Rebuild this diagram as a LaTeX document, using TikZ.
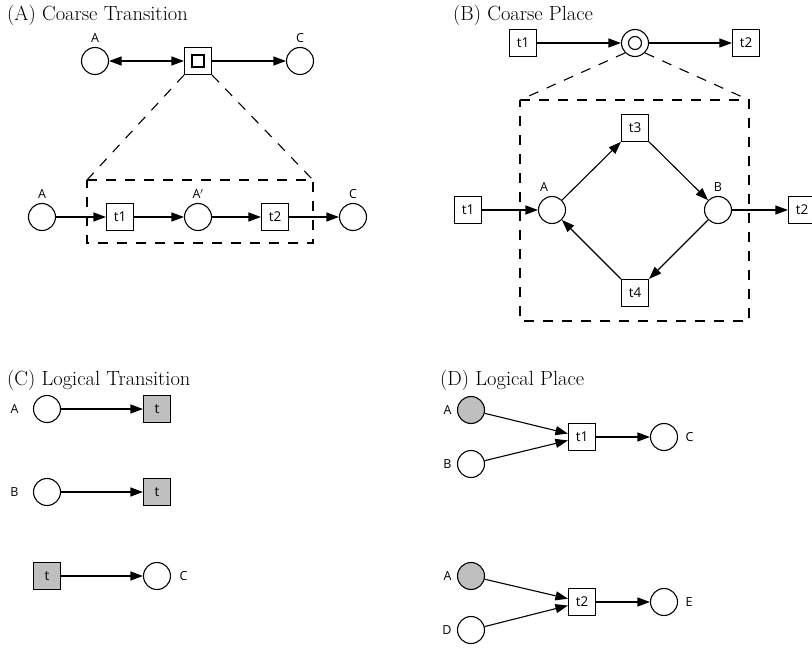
\documentclass[tikz,border=0pt]{standalone}
\usepackage{fontspec}
\newfontfamily\labfont{Open Sans}
\usetikzlibrary{arrows.meta}
\begin{document}
\begin{tikzpicture}[x=1pt,y=-1pt,
  place/.style={circle,draw,line width=1.1pt,minimum size=27pt,inner sep=0pt,fill=white},
  trans/.style={rectangle,draw,line width=1.1pt,minimum size=27pt,inner sep=0pt,fill=white,font=\labfont\fontsize{13.5}{15}\selectfont},
  gtrans/.style={trans,fill=black!25},
  gplace/.style={place,fill=black!25},
  arc/.style={-{Triangle[length=12.5pt,width=9pt]},line width=1.1pt},
  dblarc/.style={{Triangle[length=12.5pt,width=9pt]}-{Triangle[length=12.5pt,width=9pt]},line width=1.1pt},
  dashbox/.style={line width=1.1pt,dash pattern=on 10pt off 9pt},
  ttl/.style={anchor=base west,inner sep=0pt,font=\fontsize{20.5}{24}\selectfont},
  every label/.style={font=\labfont\fontsize{12.5}{14}\selectfont}]
\useasboundingbox (0,0) rectangle (812,650);

% ---------- (A) ----------
\node[ttl] (tA) at (7,21) {(A) Coarse Transition};
\node[place,label={[label distance=1pt]above:A}] (aA) at (95,61) {};
\node[trans] (aT) at (198,61) {};
\node[draw,line width=1.1pt,minimum size=12pt,inner sep=0pt] (aTi) at (198,61) {};
\node[place,label={[label distance=1pt]above:C}] (aC) at (300,61) {};
\draw[dblarc] (aA) -- (aT);
\draw[arc] (aT) -- (aC);
\coordinate (aNW) at (87,180);
\coordinate (aNE) at (313,180);
\coordinate (aSW) at (87,243);
\coordinate (aSE) at (313,243);
\draw[dashbox] (aT.south west) -- (aNW);
\draw[dashbox] (aT.south east) -- (aNE);
\draw[dashbox] (aNW) -- (aNE) -- (aSE) -- (aSW) -- cycle;
\node[place,label={[label distance=1pt]above:A}] (aA2) at (42,217) {};
\node[trans] (at1) at (120,217) {t1};
\node[place,label={[label distance=1pt]above:A$'$}] (aAp) at (198,217) {};
\node[trans] (at2) at (275,217) {t2};
\node[place,label={[label distance=1pt]above:C}] (aC2) at (353,217) {};
\draw[arc] (aA2) -- (at1);
\draw[arc] (at1) -- (aAp);
\draw[arc] (aAp) -- (at2);
\draw[arc] (at2) -- (aC2);

% ---------- (B) ----------
\node[ttl] (tB) at (453,21) {(B) Coarse Place};
\node[trans] (bt1) at (523,43) {t1};
\node[place] (bP) at (635,43) {};
\node[circle,draw,line width=1.1pt,minimum size=13pt,inner sep=0pt] (bPi) at (635,43) {};
\node[trans] (bt2) at (746,43) {t2};
\draw[arc] (bt1) -- (bP);
\draw[arc] (bP) -- (bt2);
\coordinate (bNW) at (520,100);
\coordinate (bNE) at (749,100);
\coordinate (bSW) at (520,321);
\coordinate (bSE) at (749,321);
\draw[dashbox] (bP.south west) -- (bNW);
\draw[dashbox] (bP.south east) -- (bNE);
\draw[dashbox] (bNW) -- (bNE) -- (bSE) -- (bSW) -- cycle;
\node[trans] (bt3) at (635,128) {t3};
\node[place,label={[label distance=1pt,xshift=-8pt]above:A}] (bA) at (552,210) {};
\node[place,label={[label distance=1pt]above:B}] (bB) at (718,210) {};
\node[trans] (bt4) at (635,293) {t4};
\node[trans] (bt1o) at (468,210) {t1};
\node[trans] (bt2o) at (802,210) {t2};
\draw[arc] (bt1o) -- (bA);
\draw[arc] (bA) -- (bt3);
\draw[arc] (bt3) -- (bB);
\draw[arc] (bB) -- (bt4);
\draw[arc] (bt4) -- (bA);
\draw[arc] (bB) -- (bt2o);

% ---------- (C) ----------
\node[ttl] (tC) at (7,385) {(C) Logical Transition};
\node[place,label={[label distance=11pt]left:A}] (cA) at (47,409) {};
\node[gtrans] (ct1) at (157,409) {t};
\node[place,label={[label distance=11pt]left:B}] (cB) at (47,492) {};
\node[gtrans] (ct2) at (157,492) {t};
\node[gtrans] (ct3) at (47,576) {t};
\node[place,label={[label distance=5pt]right:C}] (cC) at (157,576) {};
\draw[arc] (cA) -- (ct1);
\draw[arc] (cB) -- (ct2);
\draw[arc] (ct3) -- (cC);

% ---------- (D) ----------
\node[ttl] (tD) at (440,385) {(D) Logical Place};
\node[gplace,label={[label distance=2pt]left:A}] (dA) at (471,410) {};
\node[place,label={[label distance=2pt]left:B}] (dB) at (471,464) {};
\node[trans] (dt1) at (582,437) {t1};
\node[place,label={[label distance=4pt]right:C}] (dC) at (664,437) {};
\draw[arc] (dA) -- (dt1);
\draw[arc] (dB) -- (dt1);
\draw[arc] (dt1) -- (dC);
\node[gplace,label={[label distance=2pt]left:A}] (dA2) at (471,576) {};
\node[place,label={[label distance=2pt]left:D}] (dD) at (471,630) {};
\node[trans] (dt2) at (582,602) {t2};
\node[place,label={[label distance=4pt]right:E}] (dE) at (664,602) {};
\draw[arc] (dA2) -- (dt2);
\draw[arc] (dD) -- (dt2);
\draw[arc] (dt2) -- (dE);
\end{tikzpicture}
\end{document}
